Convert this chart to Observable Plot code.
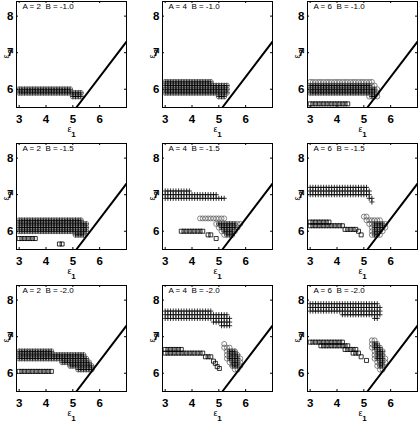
<!DOCTYPE html>
<html><head><meta charset="utf-8">
<script src="https://cdn.jsdelivr.net/npm/d3@7"></script>
<script src="https://cdn.jsdelivr.net/npm/@observablehq/plot@0.6"></script>
<style>
html,body{margin:0;padding:0;background:#fff;overflow:hidden;}
#fig{position:relative;width:419px;height:423px;background:#fff;}
.panel{position:absolute;}
</style></head><body><div id="fig"></div>
<script>
// Panel parameters (row = B, column = A)
const paramA = [2, 4, 6];
const paramB = [-1.0, -1.5, -2.0];
const xTicks = [3, 4, 5, 6];
const yTicks = [6, 7, 8];
const xDomain = [2.9, 7.0];
const yDomain = [5.5, 8.4];
// boundary line end points [eps1, eps2]
const boundaryE1 = [5.13, 7.0];
const boundaryE2 = [5.5, 7.3];

// Marker runs per panel: [eps2, eps1 first, eps1 last] on the 0.1 grid of eps1
const circleRuns = [
  [[6.0,3.0,4.9],[5.9,3.0,5.3],[5.8,5.0,5.3]],
  [[6.2,3.0,4.7],[6.1,3.0,5.3],[6.0,3.0,5.3],[5.9,3.0,5.3],[5.8,5.0,5.2]],
  [[6.2,3.0,5.3],[6.1,3.0,5.4],[6.0,3.0,5.5],[5.9,3.0,5.5],[5.8,5.2,5.5]],
  [[6.3,3.0,5.3],[6.2,3.0,5.5],[6.1,3.0,5.5],[6.0,3.0,5.5],[5.9,5.1,5.4]],
  [[6.35,4.3,5.2],[6.2,4.9,5.8],[6.1,5.0,5.7],[6.0,5.1,5.6],[5.9,5.2,5.5]],
  [[6.4,5.0,5.1],[6.3,5.1,5.6],[6.2,5.2,5.8],[6.1,5.3,5.8],[6.0,5.3,5.7],[5.9,5.3,5.6]],
  [[6.6,3.0,4.2],[6.5,3.0,5.4],[6.4,3.0,5.5],[6.3,4.6,5.6],[6.2,4.9,5.7],[6.1,5.2,5.7]],
  [[6.8,5.2,5.2],[6.7,5.2,5.4],[6.6,5.3,5.6],[6.5,5.3,5.7],[6.4,5.3,5.8],[6.3,5.4,5.8],[6.2,5.5,5.8],[6.1,5.6,5.7]],
  [[6.9,5.3,5.4],[6.8,5.3,5.5],[6.7,5.3,5.6],[6.6,5.4,5.7],[6.5,5.4,5.7],[6.4,5.4,5.8],[6.3,5.5,5.8],[6.2,5.5,5.7],[6.1,5.6,5.7]]
];
const plusRuns = [
  [[6.0,3.0,4.9],[5.9,3.0,5.3],[5.8,5.0,5.3]],
  [[6.2,3.0,4.7],[6.1,3.0,5.3],[6.0,3.0,5.3],[5.9,3.0,5.3],[5.8,5.0,5.2]],
  [[6.1,3.0,5.2],[6.0,3.0,5.4],[5.9,3.0,5.4],[5.8,5.3,5.4]],
  [[6.3,3.0,5.3],[6.2,3.0,5.5],[6.1,3.0,5.5],[6.0,3.0,5.5],[5.9,5.1,5.4]],
  [[7.1,3.0,3.9],[7.0,3.0,4.9],[6.9,3.0,5.2],[6.2,5.0,5.6],[6.1,5.1,5.6],[6.0,5.2,5.5],[5.9,5.3,5.5]],
  [[7.2,3.0,5.1],[7.1,3.0,5.2],[7.0,3.0,5.2],[6.9,5.2,5.3],[6.8,5.3,5.3],[6.2,5.4,5.7],[6.1,5.4,5.7],[6.0,5.4,5.6],[5.9,5.4,5.5]],
  [[6.6,3.0,4.2],[6.5,3.0,5.4],[6.4,3.0,5.5],[6.3,4.6,5.6],[6.2,4.9,5.7],[6.1,5.2,5.7]],
  [[7.7,3.0,4.7],[7.6,3.0,5.3],[7.5,3.0,5.4],[7.4,4.8,5.4],[7.3,5.1,5.4],[6.6,5.4,5.6],[6.5,5.4,5.7],[6.4,5.4,5.7],[6.3,5.5,5.7],[6.2,5.5,5.7]],
  [[7.9,3.0,5.5],[7.8,3.0,5.6],[7.7,3.0,5.6],[7.6,4.2,5.6],[7.5,5.4,5.5],[6.8,5.4,5.5],[6.7,5.4,5.6],[6.6,5.5,5.7],[6.5,5.5,5.7],[6.4,5.5,5.7],[6.3,5.6,5.7],[6.2,5.6,5.7]]
];
const squareRuns = [
  [],
  [],
  [[5.6,3.0,4.4]],
  [[5.8,3.0,3.6],[5.65,4.5,4.6]],
  [[6.0,3.6,4.4],[5.9,4.6,4.7],[5.8,4.9,4.9]],
  [[6.25,3.0,3.7],[6.15,3.0,4.2],[6.05,4.3,4.7],[6.0,4.8,4.8],[5.9,4.9,4.9]],
  [[6.05,3.0,4.2]],
  [[6.65,3.0,3.6],[6.55,3.0,4.4],[6.45,4.5,4.7],[6.33,4.8,4.8],[6.27,4.87,4.87],[6.18,4.94,4.94],[6.13,5.02,5.02]],
  [[6.85,3.0,4.2],[6.75,3.4,4.4],[6.65,4.3,4.7],[6.55,4.6,4.8],[6.45,4.9,4.9],[6.35,5.1,5.1]]
];

function expand(runs) {
  const out = [];
  for (const [e2, a, b] of runs) {
    if (a === b) { out.push({e1: a, e2}); continue; }
    for (let k = Math.round(a * 10); k <= Math.round(b * 10); k++) out.push({e1: k / 10, e2});
  }
  return out;
}
const plusSymbol = {draw(ctx, size) { const r = Math.sqrt(size / Math.PI); ctx.moveTo(-r, 0); ctx.lineTo(r, 0); ctx.moveTo(0, -r); ctx.lineTo(0, r); }};
const squareSymbol = {draw(ctx, size) { const r = Math.sqrt(size / Math.PI); ctx.rect(-r, -r, 2 * r, 2 * r); }};
const boundary = boundaryE1.map((e1, i) => ({e1, e2: boundaryE2[i]}));

const colLeft = [0, 146, 291];
const rowTop = [0, 142, 284];
const fig = document.getElementById("fig");
const labelFont = "'Liberation Sans Narrow','Liberation Sans',Arial,sans-serif";

for (let r = 0; r < 3; r++) {
  for (let c = 0; c < 3; c++) {
    const i = r * 3 + c;
    const title = `A = ${paramA[c]}  B = ${paramB[r].toFixed(1)}`;
    const plot = Plot.plot({
      width: 128, height: 138,
      marginLeft: 16, marginRight: 2, marginTop: 1, marginBottom: 31,
      x: {domain: xDomain, ticks: xTicks, tickSize: 0, tickPadding: 7, label: null, tickFormat: d => String(d)},
      y: {domain: yDomain, ticks: yTicks, tickSize: 0, tickPadding: 3, label: null, tickFormat: d => String(d)},
      style: {fontFamily: labelFont, fontSize: "11.5px", fontWeight: "bold", background: "transparent", overflow: "visible", color: "#000"},
      marks: [
        Plot.dot(expand(circleRuns[i]), {x: "e1", y: "e2", r: 2.5, stroke: "#555", strokeWidth: 0.7, fill: "none"}),
        Plot.dot(expand(plusRuns[i]), {x: "e1", y: "e2", r: 2.6, symbol: plusSymbol, stroke: "#000", strokeWidth: 0.8, fill: "none"}),
        Plot.dot(expand(squareRuns[i]), {x: "e1", y: "e2", r: 2, symbol: squareSymbol, stroke: "#000", strokeWidth: 0.8, fill: "none"}),
        Plot.line(boundary, {x: "e1", y: "e2", stroke: "#000", strokeWidth: 2, clip: true}),
        Plot.tickX(xTicks, {x: d => d, insetTop: 104, stroke: "#000"}),
        Plot.tickX(xTicks, {x: d => d, insetBottom: 104, stroke: "#000"}),
        Plot.tickY(yTicks, {y: d => d, insetRight: 108, stroke: "#000"}),
        Plot.tickY(yTicks, {y: d => d, insetLeft: 108, stroke: "#000"}),
        Plot.frame({stroke: "#000", strokeWidth: 1}),
        Plot.text([title], {frameAnchor: "top-left", textAnchor: "start", lineAnchor: "top", dx: 6, dy: 2, fontSize: 8, fontWeight: "normal", fontFamily: "'Liberation Sans',Arial,sans-serif", fill: "#000"}),
        Plot.text(["ε"], {frameAnchor: "bottom", dx: -2, dy: 24, fontSize: 9, fontWeight: "normal", fill: "#000"}),
        Plot.text(["1"], {frameAnchor: "bottom", dx: 2, dy: 29, fontSize: 8, fill: "#000"}),
        Plot.text(["ε"], {frameAnchor: "left", rotate: -90, dx: -10, dy: 4, fontSize: 9, fontWeight: "normal", fill: "#000"}),
        Plot.text(["2"], {frameAnchor: "left", rotate: -90, dx: -6, dy: -1, fontSize: 8, fill: "#000"})
      ]
    });
    plot.classList.add("panel");
    plot.style.left = colLeft[c] + "px";
    plot.style.top = rowTop[r] + "px";
    fig.appendChild(plot);
  }
}
</script></body></html>
